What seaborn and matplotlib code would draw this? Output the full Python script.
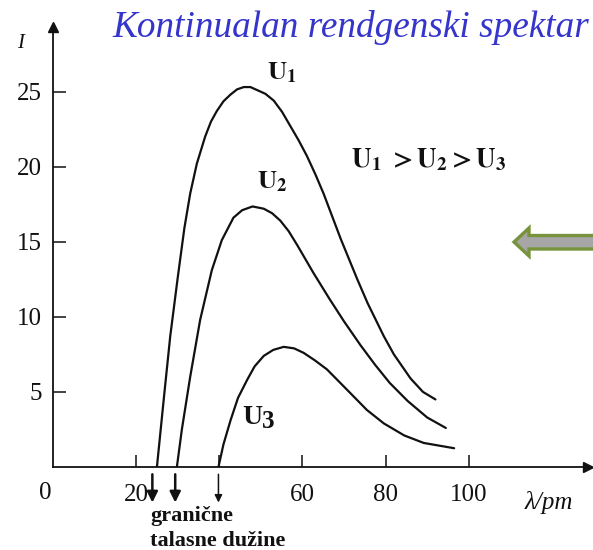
import pandas as pd
import seaborn as sns
import matplotlib.pyplot as plt
from matplotlib.patches import Polygon


# values
lam_u1 = [25.0, 26.6, 28.2, 30.0, 31.6, 33.0, 34.6, 36.6, 38.0, 39.4, 41.0, 42.7,
          44.3, 45.9, 47.5, 49.1, 51.1, 53.1, 55.1, 57.1, 59.1, 61.1, 63.1, 65.1,
          69.2, 73.2, 75.7, 79.6, 82.0, 86.0, 89.0, 92.0]
int_u1 = [0.0, 4.4, 8.7, 12.6, 15.9, 18.2, 20.2, 22.0, 23.0, 23.7, 24.35, 24.8,
          25.15, 25.3, 25.3, 25.1, 24.85, 24.4, 23.65, 22.7, 21.75, 20.7, 19.5, 18.2,
          15.2, 12.5, 10.9, 8.7, 7.5, 5.9, 5.0, 4.5]

lam_u2 = [29.8, 31.0, 33.0, 35.4, 38.2, 40.6, 43.4, 45.5, 48.0, 50.7, 52.7, 54.7,
          56.7, 58.7, 62.7, 66.5, 70.0, 74.0, 77.5, 81.0, 85.3, 90.0, 94.5]
int_u2 = [0.0, 2.5, 6.0, 9.8, 13.1, 15.1, 16.6, 17.1, 17.35, 17.2, 16.9, 16.4,
          15.7, 14.8, 12.9, 11.2, 9.7, 8.1, 6.8, 5.6, 4.4, 3.3, 2.6]

lam_u3 = [39.8, 41.0, 42.7, 44.5, 46.7, 48.5, 50.7, 53.0, 55.5, 58.0, 60.3, 63.0,
          65.9, 68.4, 71.6, 75.5, 79.6, 84.5, 89.2, 96.5]
int_u3 = [0.0, 1.5, 3.1, 4.6, 5.8, 6.7, 7.4, 7.8, 8.0, 7.9, 7.6, 7.1,
          6.5, 5.8, 4.9, 3.8, 2.9, 2.1, 1.6, 1.25]

curve_names = ["U1", "U2", "U3"]
cutoff_lam = [23.9, 29.4, 39.8]
y_ticks = [5, 10, 15, 20, 25]
x_ticks = [20, 40, 60, 80, 100]
x_tick_labels = ["20", "", "60", "80", "100"]

df = pd.concat([
  pd.DataFrame({"lam": l, "I": i, "U": n})
  for l, i, n in zip([lam_u1, lam_u2, lam_u3], [int_u1, int_u2, int_u3], curve_names)
])

sns.set_theme(style="ticks")
plt.rcParams["font.family"] = ["Liberation Serif", "DejaVu Serif"]
plt.rcParams["mathtext.fontset"] = "stix"

ink = "#111111"
fig = plt.figure(figsize=(5.93, 5.5), dpi=100)
ax = fig.add_axes([53 / 593, 83 / 550, 535 / 593, 440 / 550])

sns.lineplot(data=df, x="lam", y="I", units="U", estimator=None, sort=False,
             color=ink, lw=1.6, solid_joinstyle="round", ax=ax)

ax.set_xlim(0, 128.7)
ax.set_ylim(0, 29.3)
ax.spines[["top", "right"]].set_visible(False)
for s in ["left", "bottom"]:
  ax.spines[s].set_linewidth(1.3)
  ax.spines[s].set_color(ink)
ax.set_xticks(x_ticks, x_tick_labels)
ax.set_yticks(y_ticks)
ax.tick_params(direction="in", length=9, width=1.1, color=ink, labelsize=18,
               labelcolor=ink)
ax.tick_params(axis="y", pad=8)
ax.tick_params(axis="x", pad=12)
ax.set_xlabel("")
ax.set_ylabel("")

# axis arrow heads
ax.plot(1, 0, ">", color=ink, ms=7, transform=ax.get_yaxis_transform(), clip_on=False)
ax.plot(0, 1, "^", color=ink, ms=7, transform=ax.get_xaxis_transform(), clip_on=False)

ax.text(-1.9, -1.75, "0", ha="center", va="center", fontsize=18, color=ink)

# arrows at the cutoff wavelengths
for k, x in enumerate(cutoff_lam):
  bold = k < 2
  ax.annotate("", xy=(x, -2.55), xytext=(x, -0.3), annotation_clip=False,
              arrowprops=dict(arrowstyle="-|>", color=ink,
                              lw=1.8 if bold else 1.1,
                              mutation_scale=16 if bold else 11))

fig.text(150 / 593, 1 - 521 / 550, "granične", fontsize=16, fontweight="bold", color=ink)
fig.text(150 / 593, 1 - 546 / 550, "talasne dužine", fontsize=16, fontweight="bold", color=ink)

fig.text(282 / 593, 1 - 73 / 550, r"$\mathbf{U_1}$", fontsize=19, color=ink,
         ha="center", va="center")
fig.text(272 / 593, 1 - 182 / 550, r"$\mathbf{U_2}$", fontsize=19, color=ink,
         ha="center", va="center")
fig.text(262 / 593, 1 - 417 / 550, "U", fontsize=20, fontweight="bold", color=ink,
         ha="right", va="center")
fig.text(262 / 593, 1 - 421 / 550, "3", fontsize=18, fontweight="bold", color=ink,
         ha="left", va="center")
fig.text(429 / 593, 1 - 160 / 550, r"$\mathbf{U_1\ >U_2>U_3}$", fontsize=19.5,
         color=ink, ha="center", va="center")

fig.text(21 / 593, 1 - 44 / 550, "I", fontsize=15, fontstyle="italic", color=ink,
         ha="center", va="center")
fig.text(549 / 593, 1 - 503 / 550, "λ/pm", fontsize=18, fontstyle="italic", color=ink,
         ha="center", va="center")

fig.text(112 / 593, 1 - 37 / 550, "Kontinualan rendgenski spektar", fontsize=26.8,
         fontstyle="italic", color="#3535CC", ha="left", va="baseline")

arrow = Polygon([(5.14, 3.08), (5.29, 3.22), (5.29, 3.145), (6.1, 3.145), (6.1, 3.01),
                 (5.29, 3.01), (5.29, 2.94)], closed=True, transform=fig.dpi_scale_trans,
                facecolor="#A6A6A6", edgecolor="#77933C", lw=2.4)
fig.add_artist(arrow)

fig.savefig("out.png", dpi=100)
